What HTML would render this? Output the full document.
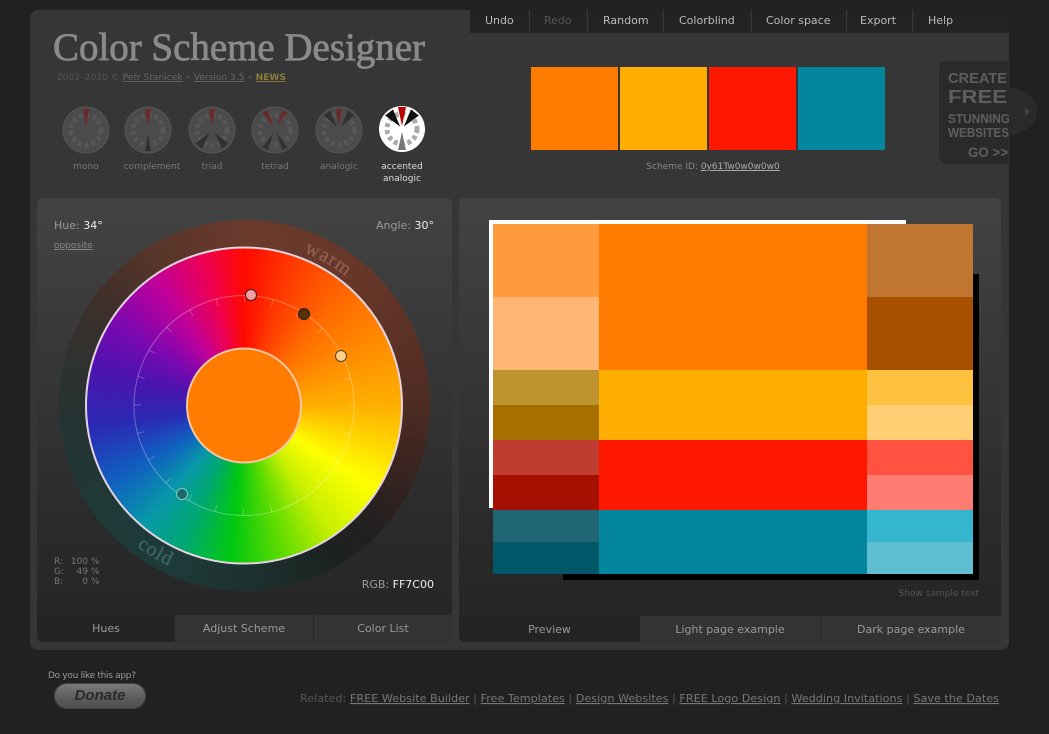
<!DOCTYPE html>
<html><head><meta charset="utf-8">
<style>
*{margin:0;padding:0;box-sizing:border-box}
html,body{width:1049px;height:734px;overflow:hidden;background:#212121;font-family:"DejaVu Sans","Liberation Sans",sans-serif;position:relative}
.a{position:absolute}
.mi{position:absolute;top:10px;height:23px;line-height:22px;font-size:11px;color:#bbb;white-space:nowrap}
.sep{position:absolute;top:10px;width:1px;height:23px;background:#3a3a3a}
.tab{position:absolute;top:615px;height:27px;line-height:28px;font-size:11px;color:#9a9a9a;text-align:center}
.lbl{position:absolute;top:161px;font-size:9px;color:#777;text-align:center;width:80px;line-height:12px}
</style></head><body>

<div class="a" style="left:30px;top:10px;width:979px;height:640px;background:#363636;border-radius:8px 0 8px 8px"></div>
<div class="a" style="left:470px;top:10px;width:539px;height:23px;background:#232323"></div>
<div class="mi" style="left:485px">Undo</div>
<div class="sep" style="left:529px"></div>
<div class="mi" style="left:544px;color:#555">Redo</div>
<div class="sep" style="left:587px"></div>
<div class="mi" style="left:603px">Random</div>
<div class="sep" style="left:663px"></div>
<div class="mi" style="left:679px">Colorblind</div>
<div class="sep" style="left:751px"></div>
<div class="mi" style="left:766px">Color space</div>
<div class="sep" style="left:846px"></div>
<div class="mi" style="left:860px">Export</div>
<div class="sep" style="left:912px"></div>
<div class="mi" style="left:928px">Help</div>

<div class="a" style="left:531px;top:67px;width:87px;height:83px;background:#FF7C00"></div>
<div class="a" style="left:620px;top:67px;width:87px;height:83px;background:#FFAD00"></div>
<div class="a" style="left:709px;top:67px;width:87px;height:83px;background:#FF1800"></div>
<div class="a" style="left:798px;top:67px;width:87px;height:83px;background:#05869F"></div>
<div class="a" style="left:600px;top:161px;width:226px;text-align:center;font-size:9px;color:#888;line-height:12px">Scheme ID: <span style="color:#aaa;text-decoration:underline">0y61Tw0w0w0w0</span></div>

<div class="a" style="left:939px;top:61px;width:71px;height:103px;background:#2a2a2a;border-radius:8px 0 0 8px"></div>

<div class="lbl" style="left:46px">mono</div>
<div class="lbl" style="left:112px">complement</div>
<div class="lbl" style="left:172px">triad</div>
<div class="lbl" style="left:235px">tetrad</div>
<div class="lbl" style="left:299px">analogic</div>
<div class="lbl" style="left:362px;color:#ddd">accented<br>analogic</div>

<div class="a" style="left:37px;top:198px;width:415px;height:444px;border-radius:6px;background:linear-gradient(to bottom,#434343 0%,#363636 40%,#2a2a2a 75%,#252525 100%);overflow:hidden"></div>
<div class="tab" style="left:37px;width:138px;background:#242424;border-radius:0 0 0 6px">Hues</div>
<div class="tab" style="left:175px;width:138px;background:#333">Adjust Scheme</div>
<div class="a" style="left:313px;top:615px;width:1px;height:27px;background:#262626"></div>
<div class="tab" style="left:314px;width:138px;background:#333;border-radius:0 0 6px 0">Color List</div>

<div class="a" style="left:459px;top:198px;width:542px;height:444px;border-radius:6px;background:linear-gradient(to bottom,#434343 0%,#363636 40%,#2a2a2a 75%,#242424 100%)"></div>
<div class="tab" style="left:459px;width:181px;background:#232323;border-radius:0 0 0 6px;top:616px;height:26px">Preview</div>
<div class="tab" style="left:640px;width:180px;background:#333;top:616px;height:26px">Light page example</div>
<div class="a" style="left:820px;top:616px;width:1px;height:26px;background:#262626"></div>
<div class="tab" style="left:821px;width:180px;background:#333;border-radius:0 0 6px 0;top:616px;height:26px">Dark page example</div>
<div class="a" style="left:880px;top:588px;width:99px;text-align:right;font-size:9px;color:#555;line-height:12px">Show sample text</div>

<div class="a" style="left:563px;top:274px;width:416px;height:306px;background:#000"></div>
<div class="a" style="left:489px;top:220px;width:417px;height:4px;background:#fff"></div>
<div class="a" style="left:489px;top:220px;width:4px;height:288px;background:#fff"></div>
<div class="a" style="left:493px;top:224px;width:106px;height:73px;background:#FF9A3D"></div>
<div class="a" style="left:493px;top:297px;width:106px;height:73px;background:#FFB573"></div>
<div class="a" style="left:599px;top:224px;width:268px;height:146px;background:#FF7C00"></div>
<div class="a" style="left:867px;top:224px;width:106px;height:73px;background:#C07531"></div>
<div class="a" style="left:867px;top:297px;width:106px;height:73px;background:#A65000"></div>
<div class="a" style="left:493px;top:370px;width:106px;height:35px;background:#BF9330"></div>
<div class="a" style="left:493px;top:405px;width:106px;height:35px;background:#A67000"></div>
<div class="a" style="left:599px;top:370px;width:268px;height:70px;background:#FFAD00"></div>
<div class="a" style="left:867px;top:370px;width:106px;height:35px;background:#FFC240"></div>
<div class="a" style="left:867px;top:405px;width:106px;height:35px;background:#FFD073"></div>
<div class="a" style="left:493px;top:440px;width:106px;height:35px;background:#BF3D30"></div>
<div class="a" style="left:493px;top:475px;width:106px;height:35px;background:#A61000"></div>
<div class="a" style="left:599px;top:440px;width:268px;height:70px;background:#FF1800"></div>
<div class="a" style="left:867px;top:440px;width:106px;height:35px;background:#FF5240"></div>
<div class="a" style="left:867px;top:475px;width:106px;height:35px;background:#FF7C73"></div>
<div class="a" style="left:493px;top:510px;width:106px;height:32px;background:#216675"></div>
<div class="a" style="left:493px;top:542px;width:106px;height:32px;background:#015668"></div>
<div class="a" style="left:599px;top:510px;width:268px;height:64px;background:#05869F"></div>
<div class="a" style="left:867px;top:510px;width:106px;height:32px;background:#34B6CE"></div>
<div class="a" style="left:867px;top:542px;width:106px;height:32px;background:#5FBFD0"></div>

<div class="a" style="left:58.5px;top:220px;width:371px;height:371px;border-radius:50%;background:conic-gradient(from 0deg,#6a3a2c 0deg,#663729 45deg,#522d23 85deg,#3a2420 110deg,#222020 135deg,#1c2221 150deg,#1c302e 175deg,#1e3b39 205deg,#1f3937 235deg,#253332 265deg,#2f3230 285deg,#3e2f2a 305deg,#583529 330deg,#6a3a2c 360deg)"></div>
<div class="a" style="left:86px;top:247.5px;width:316px;height:316px;border-radius:50%;background:conic-gradient(from 0deg,#ff0a00 0deg,#ff3c00 20deg,#ff6a00 42deg,#ff8c00 65deg,#ffb000 90deg,#ffdc00 108deg,#ffff00 122deg,#c8f000 145deg,#60dc00 165deg,#00c810 185deg,#00a870 203deg,#0898a8 220deg,#1060c0 240deg,#2a2ab4 262deg,#4a14b0 283deg,#7a08b0 303deg,#c0009a 325deg,#ee0050 345deg,#ff0a00 360deg)"></div>

<div class="a" style="left:54px;top:219px;font-size:11px;color:#999;line-height:14px">Hue: <span style="color:#eee">34°</span></div>
<div class="a" style="left:54px;top:240px;font-size:9px;color:#888;text-decoration:underline;line-height:12px">opposite</div>
<div class="a" style="left:334px;top:219px;width:100px;text-align:right;font-size:11px;color:#999;line-height:14px">Angle: <span style="color:#eee">30°</span></div>
<div class="a" style="left:54px;top:557px;font-size:9px;color:#777;line-height:10px">
<div><span style="display:inline-block;width:14px">R:</span><span style="display:inline-block;width:20px;text-align:right">100</span> %</div>
<div><span style="display:inline-block;width:14px">G:</span><span style="display:inline-block;width:20px;text-align:right">49</span> %</div>
<div><span style="display:inline-block;width:14px">B:</span><span style="display:inline-block;width:20px;text-align:right">0</span> %</div>
</div>
<div class="a" style="left:314px;top:578px;width:120px;text-align:right;font-size:11px;color:#999;line-height:14px">RGB: <span style="color:#eee">FF7C00</span></div>

<div class="a" style="left:48px;top:671px;font-size:9px;color:#999;line-height:11px;letter-spacing:-0.3px">Do you like this app?</div>
<div class="a" style="left:54px;top:683px;width:92px;height:26px;border-radius:13px;background:linear-gradient(to bottom,#7a7a7a,#5e5e5e 55%,#4e4e4e);border:1px solid #444;text-align:center;line-height:24px;font-family:'Liberation Sans',sans-serif;font-weight:bold;font-style:italic;font-size:15px;color:#2a2a2a">Donate</div>

<svg class="a" style="left:0;top:0" width="1049" height="734" viewBox="0 0 1049 734">
<defs>
<path id="warmp" d="M244 241 A164.5 164.5 0 0 1 408.5 405.5"/>
<path id="coldp" d="M67 405.5 A177 177 0 0 0 244 582.5"/>
</defs>
<text x="53" y="60" font-family="Liberation Serif,serif" font-size="39" fill="#8a8a8a" stroke="#8a8a8a" stroke-width="0.8" textLength="372" lengthAdjust="spacingAndGlyphs">Color Scheme Designer</text>
<text x="57" y="80" font-family="DejaVu Sans,sans-serif" font-size="9" fill="#555" textLength="229" lengthAdjust="spacingAndGlyphs">2002–2010 © <tspan fill="#666" text-decoration="underline">Petr Stanicek</tspan> • <tspan fill="#666" text-decoration="underline">Version 3.5</tspan> • <tspan fill="#8c7b3c" font-weight="bold" text-decoration="underline">NEWS</tspan></text>

<g transform="translate(86,130)">
<circle r="23" fill="#4b4b4b" stroke="#555"/>
<circle r="15" fill="none" stroke="#575757" stroke-width="5" stroke-dasharray="4 3"/>
<polygon points="0,-4 -3,-21 3,-21" fill="#6a2a2a"/>
</g>
<g transform="translate(148,130)">
<circle r="23" fill="#4b4b4b" stroke="#555"/>
<circle r="15" fill="none" stroke="#575757" stroke-width="5" stroke-dasharray="4 3"/>
<polygon points="0,-4 -3,-21 3,-21" fill="#6a2a2a"/>
<polygon points="0,-4 -3,-21 3,-21" fill="#303030" transform="rotate(180)"/>
</g>
<g transform="translate(212,130)">
<circle r="23" fill="#4b4b4b" stroke="#555"/>
<circle r="15" fill="none" stroke="#575757" stroke-width="5" stroke-dasharray="4 3"/>
<polygon points="0,-4 -3,-21 3,-21" fill="#6a2a2a"/>
<polygon points="0,-4 -4,-21 4,-21" fill="#303030" transform="rotate(140)"/>
<polygon points="0,-4 -4,-21 4,-21" fill="#303030" transform="rotate(220)"/>
</g>
<g transform="translate(275,130)">
<circle r="23" fill="#4b4b4b" stroke="#555"/>
<circle r="15" fill="none" stroke="#575757" stroke-width="5" stroke-dasharray="4 3"/>
<polygon points="0,-4 -3,-21 3,-21" fill="#6a2a2a" transform="rotate(-28)"/>
<polygon points="0,-4 -3,-21 3,-21" fill="#6a2a2a" transform="rotate(28)"/>
<polygon points="0,-4 -3,-21 3,-21" fill="#303030" transform="rotate(152)"/>
<polygon points="0,-4 -3,-21 3,-21" fill="#303030" transform="rotate(208)"/>
</g>
<g transform="translate(339,130)">
<circle r="23" fill="#4b4b4b" stroke="#555"/>
<circle r="15" fill="none" stroke="#575757" stroke-width="5" stroke-dasharray="4 3"/>
<polygon points="0,-4 -3,-21 3,-21" fill="#6a2a2a"/>
<polygon points="0,-4 -4,-21 4,-21" fill="#303030" transform="rotate(-35)"/>
<polygon points="0,-4 -4,-21 4,-21" fill="#303030" transform="rotate(35)"/>
</g>
<g transform="translate(402,129)">
<circle r="23" fill="#fff"/>
<circle r="15" fill="none" stroke="#aaa" stroke-width="5" stroke-dasharray="4 3"/>
<circle r="6" fill="#fff"/>
<polygon points="0,-3 -4,-22 4,-22" fill="#c00000"/>
<polygon points="0,-3 -5,-21 5,-21" fill="#111" transform="rotate(-38)"/>
<polygon points="0,-3 -5,-21 5,-21" fill="#111" transform="rotate(38)"/>
<polygon points="0,-3 -4,-21 4,-21" fill="#777" transform="rotate(180)"/>
</g>

<g font-family="Liberation Sans,Arial,sans-serif" font-weight="bold" fill="#5e5e5e">
<text x="948" y="83" font-size="15" textLength="59" lengthAdjust="spacingAndGlyphs">CREATE</text>
<text x="948" y="103" font-size="18.5" textLength="59" lengthAdjust="spacingAndGlyphs">FREE</text>
<text x="948" y="123" font-size="12.5" textLength="62" lengthAdjust="spacingAndGlyphs">STUNNING</text>
<text x="948" y="137" font-size="12.5" textLength="61" lengthAdjust="spacingAndGlyphs">WEBSITES</text>
<text x="968" y="157" font-size="14" textLength="40" lengthAdjust="spacingAndGlyphs">GO &gt;&gt;</text>
</g>
<path d="M1009 88 A28 23.5 0 0 1 1009 135 Z" fill="#2a2a2a"/>
<polygon points="1025,107 1030,111.5 1025,116" fill="#444"/>

<circle cx="244" cy="405.5" r="158" fill="none" stroke="#e4d4e2" stroke-width="2"/>
<circle cx="244" cy="405.5" r="110" fill="none" stroke="rgba(255,255,255,0.3)" stroke-width="1"/>
<circle cx="244" cy="405.5" r="106.5" fill="none" stroke="rgba(255,255,255,0.25)" stroke-width="7" stroke-dasharray="1 26.88"/>
<circle cx="244" cy="405.5" r="57" fill="#FF7C00" stroke="#f3c8a8" stroke-width="2"/>
<circle cx="251" cy="295" r="5.5" fill="#f4a0a0" stroke="#3a2020" stroke-width="1"/>
<circle cx="304" cy="314" r="5.5" fill="#5a3000" stroke="#222" stroke-width="1"/>
<circle cx="341" cy="356" r="5.5" fill="#ffd08a" stroke="#5a4020" stroke-width="1"/>
<circle cx="182" cy="494" r="5.5" fill="#1a6a6c" stroke="#8cc" stroke-width="1"/>
<text font-family="Liberation Serif,serif" font-size="20" fill="#8e5d50" stroke="#8e5d50" stroke-width="0.4" letter-spacing="1"><textPath href="#warmp" startOffset="86" text-anchor="middle">warm</textPath></text>
<text font-family="Liberation Serif,serif" font-size="20" fill="#3b6664" stroke="#3b6664" stroke-width="0.4" letter-spacing="1"><textPath href="#coldp" startOffset="182" text-anchor="middle">cold</textPath></text>

<text x="300" y="702" font-family="DejaVu Sans,sans-serif" font-size="11" fill="#555" textLength="699" lengthAdjust="spacingAndGlyphs">Related: <tspan fill="#777" text-decoration="underline">FREE Website Builder</tspan> | <tspan fill="#777" text-decoration="underline">Free Templates</tspan> | <tspan fill="#777" text-decoration="underline">Design Websites</tspan> | <tspan fill="#777" text-decoration="underline">FREE Logo Design</tspan> | <tspan fill="#777" text-decoration="underline">Wedding Invitations</tspan> | <tspan fill="#777" text-decoration="underline">Save the Dates</tspan></text>
</svg>
</body></html>
